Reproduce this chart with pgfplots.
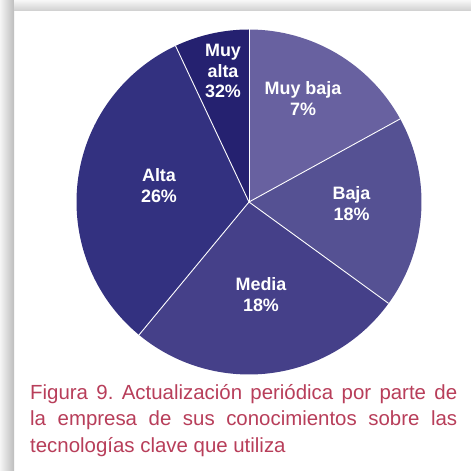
\documentclass[border=0pt]{standalone}
\usepackage{pgfplots}
\usepackage{pgfplotstable}
\pgfplotsset{compat=1.18}
\usepackage{fontspec}
\setmainfont{Liberation Sans}
\frenchspacing
\definecolor{slice0}{RGB}{104,97,160}
\definecolor{slice1}{RGB}{85,81,147}
\definecolor{slice2}{RGB}{69,64,137}
\definecolor{slice3}{RGB}{51,49,128}
\definecolor{slice4}{RGB}{37,33,112}
\definecolor{captred}{RGB}{184,62,90}
\pgfplotstableread{
pct
17
18
26
32
7
}\piedata
\begin{document}
\begin{tikzpicture}
\begin{axis}[
  scale only axis, width=471bp, height=471bp,
  xmin=0, xmax=471, ymin=0, ymax=471,
  hide axis, clip=false,
]
% background panel with shadow
\fill[white] (axis cs:0,0) rectangle (axis cs:471,471);
\shade[left color=gray!8, right color=gray!52] (axis cs:0,0) rectangle (axis cs:14,471);
\shade[top color=gray!6, bottom color=gray!38] (axis cs:14,460) rectangle (axis cs:471,471);
\pgfplotsextra{
  \xdef\cumangle{90}
  \pgfplotstableforeachcolumnelement{pct}\of\piedata\as\p{%
    \pgfmathsetmacro\endangle{\cumangle-3.6*\p}%
    \fill[slice\pgfplotstablerow] (axis cs:249,269) -- ++(\cumangle:172.5bp)
      arc[start angle=\cumangle, end angle=\endangle, radius=172.5bp] -- cycle;
    \xdef\cumangle{\endangle}%
  }
  \xdef\cumangle{90}
  \pgfplotstableforeachcolumnelement{pct}\of\piedata\as\p{%
    \draw[white, line width=0.9bp] (axis cs:249,269) -- ++(\cumangle:172.5bp);
    \pgfmathsetmacro\endangle{\cumangle-3.6*\p}%
    \xdef\cumangle{\endangle}%
  }
}
\begin{scope}[every node/.style={text=white, align=center, font=\bfseries\fontsize{18}{21}\selectfont}]
\node at (axis cs:303,372.5) {Muy baja\\7\%};
\node at (axis cs:351.5,267.5) {Baja\\18\%};
\node at (axis cs:261,176) {Media\\18\%};
\node at (axis cs:159,285.5) {Alta\\26\%};
\node at (axis cs:223,400) {Muy\\alta\\32\%};
\end{scope}
\begin{scope}[every node/.style={text=captred, anchor=base west, inner sep=0pt, font=\fontsize{20.5}{26}\selectfont}]
\node at (axis cs:30,71.5) {\makebox[427bp][s]{Figura 9. Actualización periódica por parte de}};
\node at (axis cs:30,45.2) {\makebox[427bp][s]{la empresa de sus conocimientos sobre las}};
\node at (axis cs:30,19) {tecnologías clave que utiliza};
\end{scope}
\end{axis}
\end{tikzpicture}
\end{document}
